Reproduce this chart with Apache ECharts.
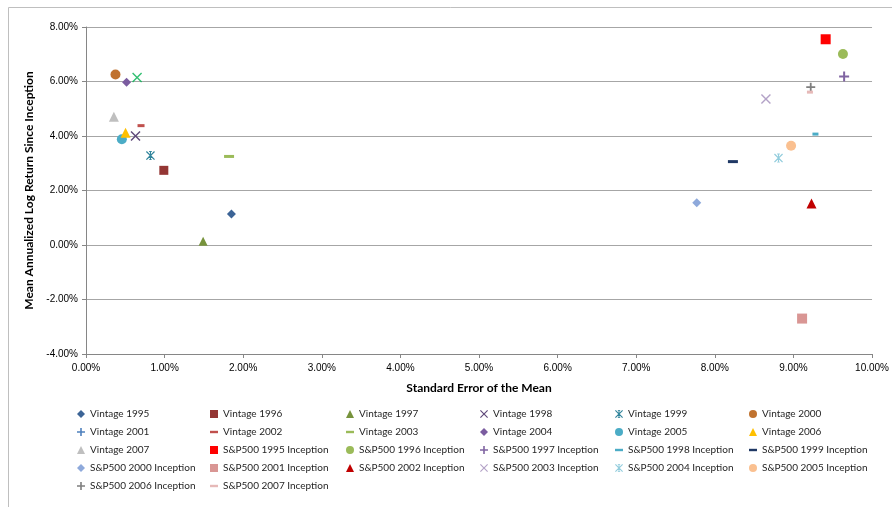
<!DOCTYPE html>
<html><head><meta charset="utf-8">
<script src="https://cdn.jsdelivr.net/npm/echarts@6/dist/echarts.min.js"></script>
<style>html,body{margin:0;padding:0;background:#fff}#c{width:892px;height:507px}</style>
</head><body><div id="c"></div>
<script>
// Series names (legend order)
const seriesNames = [
  'Vintage 1995','Vintage 1996','Vintage 1997','Vintage 1998','Vintage 1999','Vintage 2000',
  'Vintage 2001','Vintage 2002','Vintage 2003','Vintage 2004','Vintage 2005','Vintage 2006',
  'Vintage 2007','S&P500 1995 Inception','S&P500 1996 Inception','S&P500 1997 Inception','S&P500 1998 Inception','S&P500 1999 Inception',
  'S&P500 2000 Inception','S&P500 2001 Inception','S&P500 2002 Inception','S&P500 2003 Inception','S&P500 2004 Inception','S&P500 2005 Inception',
  'S&P500 2006 Inception','S&P500 2007 Inception'
];
// Standard error of the mean (%) per series (null = not plotted)
const stdErr = [
  1.85, 0.99, 1.49, 0.63, 0.82, 0.375,
  null, 0.70, 1.82, 0.516, 0.456, 0.503,
  0.355, 9.41, 9.63, 9.645, 9.28, 8.23,
  7.77, 9.11, 9.23, 8.65, 8.81, 8.97,
  9.22, 9.21
];
// Mean annualized log return since inception (%)
const meanRet = [
  1.14, 2.74, 0.14, 4.00, 3.28, 6.26,
  null, 4.38, 3.25, 5.97, 3.88, 4.12,
  4.71, 7.55, 7.01, 6.18, 4.07, 3.06,
  1.55, -2.70, 1.52, 5.36, 3.19, 3.64,
  5.79, 5.61
];
// Extra unlabelled point (green X) shown in the plot but absent from legend
const extraPoint = [0.65, 6.15];
const xTicks = [0, 10, 1];   // min, max, interval (%)
const yTicks = [-4, 8, 2];

const X = 'path://M1,0 L5,4 L9,0 L10,1 L6,5 L10,9 L9,10 L5,6 L1,10 L0,9 L4,5 L0,1 Z';
const PLUS = 'path://M4,0 H6 V4 H10 V6 H6 V10 H4 V6 H0 V4 H4 Z';
const STAR = 'path://M1,0 L5,4 L9,0 L10,1 L6,5 L10,9 L9,10 L5,6 L1,10 L0,9 L4,5 L0,1 Z M4.4,0 H5.6 V10 H4.4 Z M3.5,0 H6.5 V1 H3.5 Z M3.5,9 H6.5 V10 H3.5 Z';
const DASH = 'path://M0,0 H10 V3 H0 Z';
const styles = [
  ['diamond','#3C6496',9],['rect','#943634',9],['triangle','#77933C',9],[X,'#5F497A',10],[STAR,'#31859C',9],['circle','#C0722F',10],
  [PLUS,'#4F81BD',9],[DASH,'#C0504D',[7,3]],[DASH,'#9BBB59',[10,3]],['diamond','#7B5CA0',9],['circle','#4BACC6',10],['triangle','#FFC000',10],
  ['triangle','#BFBFBF',10],['rect','#FF0000',10],['circle','#9BBB59',10],[PLUS,'#8064A2',10],[DASH,'#4BACC6',[6,3]],[DASH,'#1F3864',[10,3]],
  ['diamond','#8EA9DB',9],['rect','#D99694',10],['triangle','#C00000',10],[X,'#B3A2C7',10],[STAR,'#93CDDD',9],['circle','#FAC090',10],
  [PLUS,'#7F7F7F',9],[DASH,'#E6B9B8',[6,3]]
];

const series = seriesNames.map((n,i)=>({
  name:n, type:'scatter', symbol:styles[i][0], symbolSize:styles[i][2],
  itemStyle:{color:styles[i][1], opacity:1},
  data: stdErr[i]==null ? [] : [[stdErr[i], meanRet[i]]],
  emphasis:{disabled:true}, z:2
}));
series.push({name:'extra', type:'scatter', symbol:X, symbolSize:10, itemStyle:{color:'#00B050'}, data:[extraPoint], z:2});

const colLeft = [72, 205, 341, 475, 610, 744];
const legends = colLeft.map((l,c)=>({
  orient:'vertical', left:l, top:402, itemWidth:8, itemHeight:8, itemGap:4,
  textStyle:{fontFamily:'Lato', fontSize:10, color:'#262626', lineHeight:14},
  selectedMode:false,
  data: seriesNames.filter((_,i)=>i%6===c)
}));

const fmt = v => v.toFixed(2)+'%';
const chart = echarts.init(document.getElementById('c'));
chart.setOption({
  animation:false,
  graphic:[{type:'polyline', shape:{points:[[8.5,507],[8.5,7.5],[892,7.5]]}, style:{stroke:'#BFBFBF', lineWidth:1, fill:null}, silent:true}],
  grid:{left:86, right:17, top:27, bottom:153},
  xAxis:{type:'value', min:xTicks[0], max:xTicks[1], interval:xTicks[2],
    name:'Standard Error of the Mean', nameLocation:'middle', nameGap:28,
    nameTextStyle:{fontFamily:'Lato', fontWeight:'bold', fontSize:12, color:'#000'},
    axisLine:{show:true, onZero:false, lineStyle:{color:'#868686'}},
    axisTick:{show:true, length:4, lineStyle:{color:'#868686'}},
    splitLine:{show:false},
    axisLabel:{formatter:fmt, fontFamily:'Liberation Sans', fontSize:10, color:'#000', margin:9}},
  yAxis:{type:'value', min:yTicks[0], max:yTicks[1], interval:yTicks[2],
    name:'Mean Annualized Log Return Since Inception', nameLocation:'middle', nameGap:50,
    nameTextStyle:{fontFamily:'Lato', fontWeight:'bold', fontSize:12, color:'#000'},
    axisLine:{show:true, lineStyle:{color:'#868686'}},
    axisTick:{show:true, length:4, lineStyle:{color:'#868686'}},
    splitLine:{show:true, lineStyle:{color:'#A6A6A6'}},
    axisLabel:{formatter:fmt, fontFamily:'Liberation Sans', fontSize:10, color:'#000', margin:8}},
  legend:legends,
  series:series
});
</script></body></html>
